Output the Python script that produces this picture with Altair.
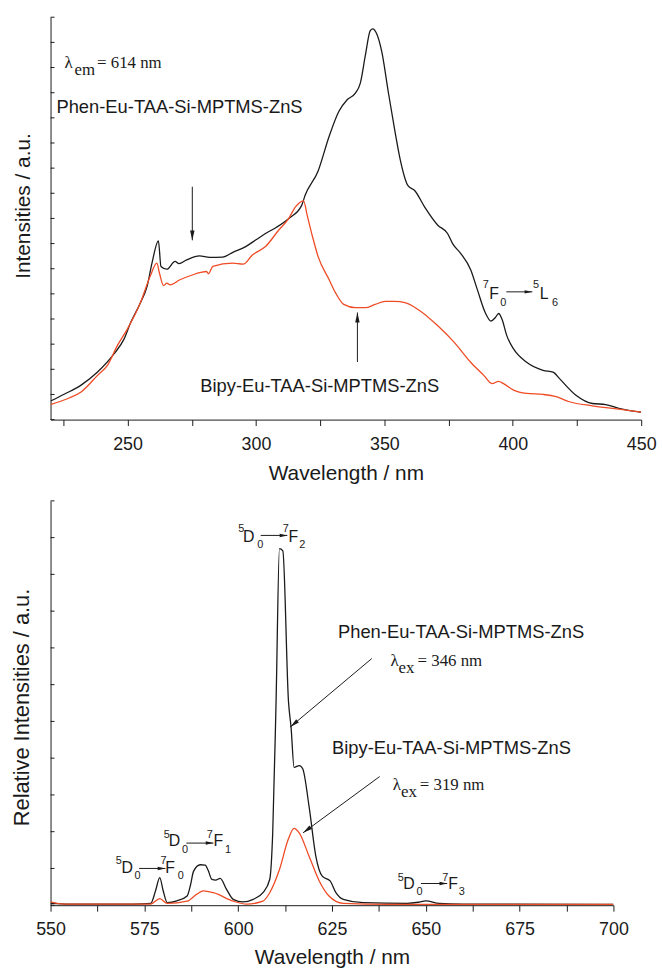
import altair as alt
import pandas as pd

SANS = "Liberation Sans"
SERIF = "Liberation Serif"
BLACK = "#1a1a1a"
RED = "#ef4b24"

# ---------------- excitation spectra (top) ----------------
exc_phen_nm = [220, 225.5, 231.9, 238.3, 244.7, 248.6, 251.2, 255, 257.6, 259.5, 262, 263, 265.3,
               268.5, 270, 273, 278, 282, 287, 291, 296, 300, 303.7, 308, 312.7, 317.8, 319.1,
               324.2, 328.5, 332.3, 335.5, 338.7, 340.6, 342.6, 344.5, 345.5, 347, 349, 351.5,
               354.1, 356, 359.2, 361.8, 365.7, 370.8, 374.6, 376.5, 379.7, 383.6, 386.2, 389.3,
               391.5, 393.2, 394.5, 395.8, 397.7, 400.3, 405.4, 411.8, 415.7, 418.2, 424.6, 431,
               436.2, 441.3, 449, 450]
exc_phen_int = [0.74, 1.02, 1.37, 1.89, 2.61, 3.20, 3.86, 4.65, 5.30, 6.22, 7.11, 6.09, 5.98,
                6.29, 6.20, 6.35, 6.51, 6.45, 6.46, 6.65, 6.88, 7.15, 7.40, 7.65, 7.99, 8.52, 8.91,
                9.89, 11.27, 12.26, 12.72, 12.98, 13.37, 14.49, 15.47, 15.54, 15.34, 14.62, 13.04,
                11.47, 10.42, 9.30, 9.11, 8.45, 7.73, 7.40, 7.01, 6.61, 5.96, 5.17, 4.25,
                3.92, 4.06, 4.22, 3.99, 3.33, 2.81, 2.28, 1.96, 1.89, 1.63, 0.97, 0.64,
                0.60, 0.45, 0.31, 0.30]

exc_bipy_nm = [220, 226.8, 231.9, 238.3, 242.3, 246, 249.9, 255, 258.8, 261.4, 262.4, 264, 265.3,
               266.5, 270.4, 275.5, 278.5, 280.7, 281.5, 283.2, 290.9, 295, 298.6, 303.7, 308.8,
               312.7, 315.3, 318.5, 320, 322, 324.2, 328.5, 331, 334.2, 338.7, 342.6, 346.4,
               350.3, 354, 358, 363.1, 370.8, 377.2, 383.6, 388.7, 391.9, 394.5, 396.4, 400.3,
               405.4, 411.8, 416.9, 422, 431, 441.3, 450]
exc_bipy_int = [0.60, 0.84, 1.10, 1.76, 2.18, 2.94, 3.60, 4.65, 5.70, 6.22, 5.83, 5.33, 5.43,
                5.36, 5.56, 5.76, 5.85, 5.89, 5.80, 6.09, 6.22, 6.18, 6.55, 6.88, 7.53,
                7.99, 8.45, 8.70, 8.10, 7.28, 6.48, 5.56, 5.04, 4.58, 4.45, 4.45, 4.58,
                4.70, 4.70, 4.65, 4.38, 3.73, 3.07, 2.28, 1.76, 1.43, 1.52, 1.43, 1.17,
                1.04, 1.00, 0.91, 0.71, 0.55, 0.42, 0.30]

# ---------------- emission spectra (bottom) ----------------
em_phen_nm = [550, 555, 572, 576.7, 578, 579.1, 580, 581.1, 583.7, 586.4, 587.3, 588.1, 589.9,
              591.2, 592, 593, 594, 595.2, 596.9, 598.7, 601.3, 604, 606.6, 608.4, 609.2, 610.1,
              611, 611.9, 613.4, 614.1, 614.9, 616.3, 617.2, 618.9, 620.7, 622.4, 624.5, 626,
              628, 633.3, 645, 648, 650, 653.5, 660, 700]
em_phen_int = [0.05, 0.03, 0.03, 0.05, 0.40, 0.75, 0.40, 0.07, 0.12, 0.25, 0.55, 0.92, 1.10,
               1.09, 0.95, 0.70, 0.68, 0.73, 0.43, 0.16, 0.09, 0.16, 0.34, 0.70, 1.96, 5.55,
               9.70, 9.64, 5.55, 4.83, 3.75, 3.80, 3.71, 2.68, 1.33, 0.79, 0.66, 0.35,
               0.16, 0.07, 0.05, 0.08, 0.12, 0.05, 0.03, 0.02]

em_bipy_nm = [550, 553.7, 576.7, 579.1, 581.1, 586.4, 589, 590.7, 593.4, 598.7, 602.2, 606.6,
              608.4, 611, 613.3, 614.9, 616.3, 618.9, 621.6, 624.2, 628, 640, 700]
em_bipy_int = [0.09, 0.03, 0.03, 0.18, 0.05, 0.11, 0.30, 0.39, 0.34, 0.11, 0.03, 0.11,
               0.34, 0.97, 1.78, 2.09, 1.96, 1.33, 0.66, 0.25, 0.05, 0.02, 0.02]

# ---------------- axes ticks ----------------
top_xticks = [225, 250, 275, 300, 325, 350, 375, 400, 425, 450]
bot_xticks = [550, 562.5, 575, 587.5, 600, 612.5, 625, 637.5, 650, 662.5, 675, 687.5, 700]
top_yticks = list(range(0, 17))
bot_yticks = list(range(0, 12))

# ---------------- annotations (data units) ----------------
top_labels = [("Phen-Eu-TAA-Si-MPTMS-ZnS", 222.3, 12.18), ("Bipy-Eu-TAA-Si-MPTMS-ZnS", 278.3, 1.08)]
top_serif = [("λ", 225.4, 14.0), ("em", 229.3, 13.72), ("= 614 nm", 238.1, 14.0)]
top_big = [("F", 390.8, 4.78), ("L", 410.5, 4.78)]
top_small = [("7", 388.3, 5.24), ("0", 395.1, 4.52), ("5", 407.9, 5.24), ("6", 415.3, 4.52)]
top_shafts = [(275.2, 9.26, 275.2, 7.13), (339.5, 2.29, 339.5, 4.26), (397.5, 5.08, 407.6, 5.08)]
top_heads = [(275.2, 7.13, 180, 100), (339.5, 4.26, 0, 100), (407.6, 5.08, 90, 60)]

bot_labels = [("Phen-Eu-TAA-Si-MPTMS-ZnS", 626.6, 7.26), ("Bipy-Eu-TAA-Si-MPTMS-ZnS", 625.0, 4.12)]
bot_serif = [("λ", 640.6, 6.52), ("ex", 642.7, 6.33), ("= 346 nm", 647.8, 6.52),
             ("λ", 641.2, 3.13), ("ex", 643.4, 2.94), ("= 319 nm", 648.4, 3.13)]
bot_big = [("D", 601.3, 9.88), ("F", 613.4, 9.88), ("D", 581.5, 1.60), ("F", 593.4, 1.60),
           ("D", 568.9, 0.88), ("F", 580.6, 0.88), ("D", 644.0, 0.43), ("F", 656.0, 0.43)]
bot_small = [("5", 600.0, 10.15), ("0", 605.1, 9.71), ("7", 611.9, 10.15), ("2", 616.3, 9.71),
             ("5", 580.2, 1.84), ("0", 585.0, 1.42), ("7", 591.6, 1.84), ("1", 596.5, 1.42),
             ("5", 567.4, 1.12), ("0", 572.4, 0.70), ("7", 579.3, 1.12), ("0", 583.9, 0.70),
             ("5", 642.5, 0.67), ("0", 647.5, 0.27), ("7", 654.4, 0.67), ("3", 658.8, 0.27)]
bot_shafts = [(606.0, 10.06, 613.1, 10.06), (586.2, 1.69, 593.4, 1.69), (573.6, 1.00, 580.6, 1.00),
              (648.7, 0.59, 655.7, 0.59), (635.6, 6.71, 613.9, 4.85), (637.7, 3.50, 617.3, 1.97)]
bot_heads = [(613.1, 10.06, 90, 60), (593.4, 1.69, 90, 60), (580.6, 1.00, 90, 60),
             (655.7, 0.59, 90, 60), (613.9, 4.85, 230, 90), (617.3, 1.97, 233.5, 90)]

HEAD = "M0,0L0.45,2L-0.45,2Z"


def panel(xdom, ydom, xticks, major, xtitle, ytitle, ytitle_size, ytitle_y, title_pad,
          series, yticks, labels, serif, big, small, shafts, heads, w, h):
    xscale = alt.Scale(domain=xdom, nice=False, zero=False)
    yscale = alt.Scale(domain=ydom, nice=False)
    xaxis = alt.Axis(title=xtitle, values=xticks, labelExpr=f"datum.value % {major} === 0 ? datum.label : ''",
                     tickSize=6, labelPadding=10, labelFontSize=18, labelFont=SANS, labelColor=BLACK,
                     titleFont=SANS, titleFontSize=21, titleFontWeight="normal", titleColor=BLACK,
                     titlePadding=title_pad, domainColor=BLACK, tickColor=BLACK, grid=False,
                     labelFlush=False, labelOverlap=False, format="d")
    yaxis = alt.Axis(title=ytitle, labels=False, ticks=False, grid=False, domainColor=BLACK,
                     titleFont=SANS, titleFontSize=ytitle_size, titleFontWeight="normal",
                     titleColor=BLACK, titlePadding=17, titleY=ytitle_y)

    def X(f):
        return alt.X(f, type="quantitative", scale=xscale, axis=xaxis)

    def Y(f):
        return alt.Y(f, type="quantitative", scale=yscale, axis=yaxis)

    layers = []
    for nm, val, col in series:
        df = pd.DataFrame({"x": nm, "y": val})
        layers.append(alt.Chart(df).mark_line(color=col, strokeWidth=1.3, clip=True,
                                              interpolate="monotone").encode(
            x=X("x"), y=Y("y")))

    tdf = pd.DataFrame({"y": yticks})
    layers.append(alt.Chart(tdf).mark_rule(color=BLACK, strokeWidth=1).encode(
        y=Y("y"), x=alt.value(0), x2=alt.value(4)))

    sdf = pd.DataFrame(shafts, columns=["x", "y", "x2", "y2"])
    layers.append(alt.Chart(sdf).mark_rule(color=BLACK, strokeWidth=1).encode(
        x=X("x"), y=Y("y"), x2=alt.X2("x2"), y2=alt.Y2("y2")))

    hdf = pd.DataFrame(heads, columns=["x", "y", "a", "s"])
    layers.append(alt.Chart(hdf).mark_point(shape=HEAD, filled=True, color=BLACK, opacity=1,
                                            strokeWidth=0).encode(
        x=X("x"), y=Y("y"), angle=alt.Angle("a:Q", scale=None), size=alt.Size("s:Q", scale=None)))

    for items, font, size in [(labels, SANS, 18.5), (serif, SERIF, 17), (big, SANS, 16), (small, SANS, 11)]:
        df = pd.DataFrame(items, columns=["t", "x", "y"])
        layers.append(alt.Chart(df).mark_text(font=font, fontSize=size, align="left",
                                              baseline="alphabetic", color=BLACK).encode(
            x=X("x"), y=Y("y"), text="t:N"))

    return alt.layer(*layers).properties(width=w, height=h)


top = panel([220, 450], [0, 16], top_xticks, 50, "Wavelength / nm", "Intensities / a.u.", 21, 190, 9,
            [(exc_phen_nm, exc_phen_int, BLACK), (exc_bipy_nm, exc_bipy_int, RED)],
            top_yticks, top_labels, top_serif, top_big, top_small, top_shafts, top_heads, 596, 406)

bottom = panel([550, 700], [0, 11], bot_xticks, 25, "Wavelength / nm", "Relative Intensities / a.u.", 22, 208, 8,
               [(em_phen_nm, em_phen_int, BLACK), (em_bipy_nm, em_bipy_int, RED)],
               bot_yticks, bot_labels, bot_serif, bot_big, bot_small, bot_shafts, bot_heads, 568, 408)

chart = alt.vconcat(top, bottom, spacing=17).properties(
    padding={"left": 11, "top": 12, "right": 5, "bottom": 0}
).configure_view(stroke=None)

chart.save("out.html", embed_options={"renderer": "svg", "actions": False})
